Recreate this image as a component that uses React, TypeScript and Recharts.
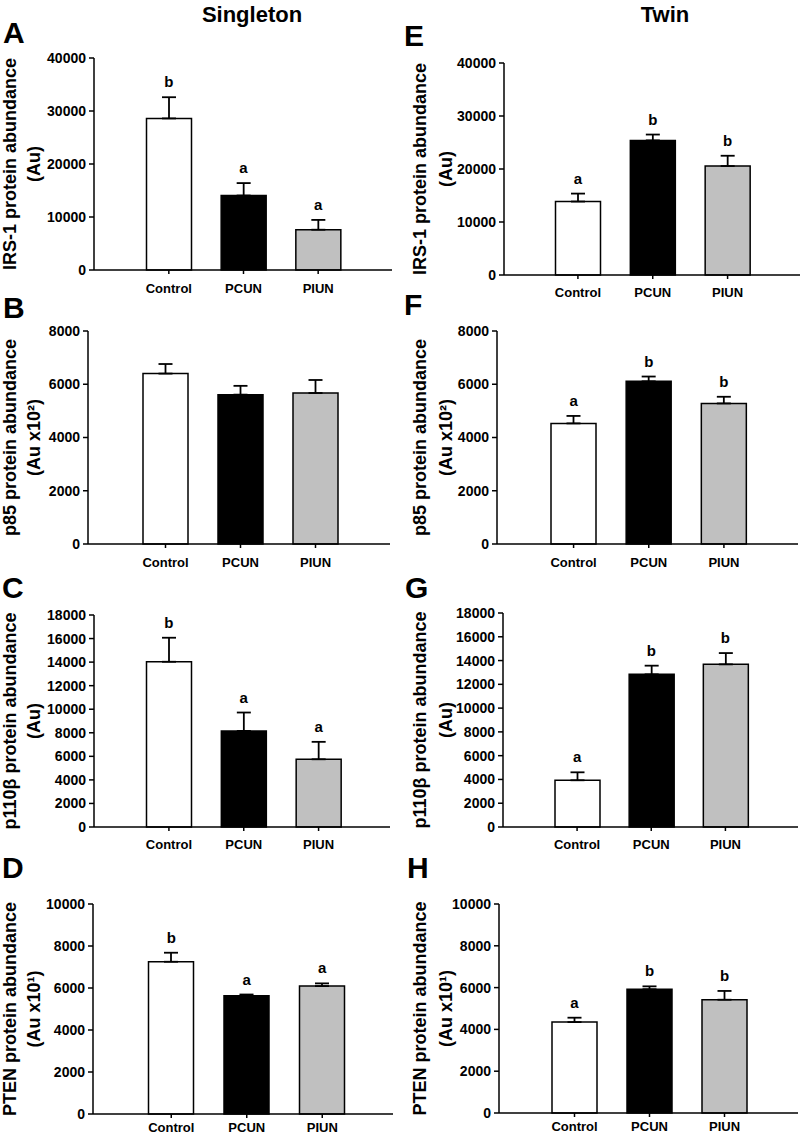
import React from 'react';
import { ComposedChart, Bar, Line, XAxis, YAxis, ErrorBar, Cell, LabelList } from 'recharts';

const FONT = '"Liberation Sans", Arial, Helvetica, sans-serif';

// ---- data ----
const categories = ['Control', 'PCUN', 'PIUN'];
const barFills = ['#ffffff', '#000000', '#c0c0c0'];

const irs1SingletonMean = [28600, 14050, 7600];
const irs1SingletonErr = [4000, 2350, 1850];
const irs1SingletonLetters = ['b', 'a', 'a'];

const p85SingletonMean = [6400, 5610, 5670];
const p85SingletonErr = [360, 330, 490];

const p110SingletonMean = [14030, 8160, 5750];
const p110SingletonErr = [2040, 1560, 1480];
const p110SingletonLetters = ['b', 'a', 'a'];

const ptenSingletonMean = [7250, 5630, 6090];
const ptenSingletonErr = [430, 60, 130];
const ptenSingletonLetters = ['b', 'a', 'a'];

const irs1TwinMean = [13860, 25400, 20560];
const irs1TwinErr = [1500, 1100, 1940];
const irs1TwinLetters = ['a', 'b', 'b'];

const p85TwinMean = [4530, 6110, 5280];
const p85TwinErr = [280, 180, 250];
const p85TwinLetters = ['a', 'b', 'b'];

const p110TwinMean = [3930, 12840, 13680];
const p110TwinErr = [670, 730, 950];
const p110TwinLetters = ['a', 'b', 'b'];

const ptenTwinMean = [4350, 5920, 5420];
const ptenTwinErr = [210, 140, 420];
const ptenTwinLetters = ['a', 'b', 'b'];

const irs1Ticks = [0, 10000, 20000, 30000, 40000];
const p85Ticks = [0, 2000, 4000, 6000, 8000];
const p110Ticks = [0, 2000, 4000, 6000, 8000, 10000, 12000, 14000, 16000, 18000];
const ptenTicks = [0, 2000, 4000, 6000, 8000, 10000];

const columnTitles = ['Singleton', 'Twin'];

// ---- layout ----
type PanelDef = {
  id: string;
  col: number;
  L: number; R: number; T: number; B: number;
  pl: number; pr: number; tm: number;
  means: number[]; errs: number[]; letters?: string[];
  ticks: number[];
  label1: string; label2: string;
};

const panels: PanelDef[] = [
  { id: 'A', col: 0, L: 94, R: 392, T: 58, B: 270, pl: 37.5, pr: 36.5, tm: 10, means: irs1SingletonMean, errs: irs1SingletonErr, letters: irs1SingletonLetters, ticks: irs1Ticks, label1: 'IRS-1 protein abundance', label2: '(Au)' },
  { id: 'B', col: 0, L: 88, R: 390, T: 331, B: 544, pl: 40, pr: 37, tm: 10, means: p85SingletonMean, errs: p85SingletonErr, ticks: p85Ticks, label1: 'p85 protein abundance', label2: '(Au x10²)' },
  { id: 'C', col: 0, L: 94, R: 390, T: 615, B: 827, pl: 37.5, pr: 34, tm: 9, means: p110SingletonMean, errs: p110SingletonErr, letters: p110SingletonLetters, ticks: p110Ticks, label1: 'p110β protein abundance', label2: '(Au)' },
  { id: 'D', col: 0, L: 93, R: 393, T: 904, B: 1114, pl: 40.5, pr: 33, tm: 5, means: ptenSingletonMean, errs: ptenSingletonErr, letters: ptenSingletonLetters, ticks: ptenTicks, label1: 'PTEN protein abundance', label2: '(Au x10¹)' },
  { id: 'E', col: 1, L: 504, R: 800, T: 63, B: 275, pl: 36.5, pr: 35, tm: 9, means: irs1TwinMean, errs: irs1TwinErr, letters: irs1TwinLetters, ticks: irs1Ticks, label1: 'IRS-1 protein abundance', label2: '(Au)' },
  { id: 'F', col: 1, L: 497, R: 798, T: 331, B: 544, pl: 39, pr: 36.5, tm: 10, means: p85TwinMean, errs: p85TwinErr, letters: p85TwinLetters, ticks: p85Ticks, label1: 'p85 protein abundance', label2: '(Au x10²)' },
  { id: 'G', col: 1, L: 503, R: 798, T: 613, B: 827, pl: 37, pr: 35.5, tm: 9, means: p110TwinMean, errs: p110TwinErr, letters: p110TwinLetters, ticks: p110Ticks, label1: 'p110β protein abundance', label2: '(Au)' },
  { id: 'H', col: 1, L: 499, R: 798, T: 904, B: 1113, pl: 38, pr: 36, tm: 5, means: ptenTwinMean, errs: ptenTwinErr, letters: ptenTwinLetters, ticks: ptenTicks, label1: 'PTEN protein abundance', label2: '(Au x10¹)' },
];

const letterPos: Record<string, [number, number]> = {
  A: [3, 43], B: [3, 318], C: [2, 598], D: [2, 878],
  E: [404, 46], F: [404, 315], G: [405, 598], H: [407, 878],
};

const labelX = [[16, 40], [426, 452]];

function Panel({ p }: { p: PanelDef }) {
  const data = categories.map((name, i) => ({
    name,
    value: p.means[i],
    err: [0, p.errs[i]],
    top: p.means[i] + p.errs[i],
    letter: p.letters ? p.letters[i] : '',
  }));
  const chartLeft = p.col * 400;
  const mt = 16;
  const chartTop = p.T - mt;
  const xH = 26;
  const max = p.ticks[p.ticks.length - 1];
  return (
    <div style={{ position: 'absolute', left: chartLeft, top: chartTop }}>
      <ComposedChart
        width={p.R - chartLeft + 4}
        height={p.B - chartTop + xH}
        data={data}
        margin={{ top: mt, right: 4, bottom: 0, left: 0 }}
      >
        <XAxis
          dataKey="name"
          height={xH}
          padding={{ left: p.pl, right: p.pr }}
          interval={0}
          tickSize={4}
          tickMargin={p.tm}
          axisLine={{ stroke: '#000', strokeWidth: 1.5 }}
          tickLine={{ stroke: '#000', strokeWidth: 1.5 }}
          tick={{ fill: '#000', fontSize: 13, fontWeight: 'bold', fontFamily: FONT }}
        />
        <YAxis
          width={p.L - chartLeft}
          domain={[0, max]}
          ticks={p.ticks}
          interval={0}
          tickSize={5}
          tickMargin={3}
          axisLine={{ stroke: '#000', strokeWidth: 1.5 }}
          tickLine={{ stroke: '#000', strokeWidth: 1.5 }}
          tick={{ fill: '#000', fontSize: 14, fontWeight: 'bold', fontFamily: FONT }}
        />
        <Bar dataKey="value" barSize={45} stroke="#000" strokeWidth={1.5} isAnimationActive={false}>
          {data.map((d, i) => (
            <Cell key={d.name} fill={barFills[i]} />
          ))}
          <ErrorBar dataKey="err" width={7} strokeWidth={1.8} stroke="#000" direction="y" isAnimationActive={false} />
        </Bar>
        {p.letters && (
          <Line dataKey="top" stroke="none" dot={false} activeDot={false} isAnimationActive={false} legendType="none">
            <LabelList
              dataKey="letter"
              position="top"
              offset={10}
              fill="#000"
              style={{ fontSize: 15, fontWeight: 'bold', fontFamily: FONT }}
            />
          </Line>
        )}
      </ComposedChart>
    </div>
  );
}

export default function App() {
  return (
    <div style={{ position: 'absolute', left: 0, top: 0, width: 803, height: 1140, overflow: 'hidden', background: '#fff' }}>
      {panels.map((p) => (
        <Panel key={p.id} p={p} />
      ))}
      <svg width={803} height={1140} style={{ position: 'absolute', left: 0, top: 0, pointerEvents: 'none' }}>
        <g fontFamily={FONT} fontWeight="bold" fill="#000">
          <text x={252} y={22} fontSize={22} textAnchor="middle">{columnTitles[0]}</text>
          <text x={665} y={22} fontSize={22} textAnchor="middle">{columnTitles[1]}</text>
          {panels.map((p) => {
            const [lx, ly] = letterPos[p.id];
            return (
              <text key={'l' + p.id} x={lx} y={ly} fontSize={30}>{p.id}</text>
            );
          })}
          {panels.map((p) => {
            const cy = (p.T + p.B) / 2;
            const [x1, x2] = labelX[p.col];
            return (
              <g key={'y' + p.id} fontSize={18}>
                <text x={x1} y={cy} textAnchor="middle" transform={`rotate(-90 ${x1} ${cy})`}>{p.label1}</text>
                <text x={x2} y={cy} textAnchor="middle" transform={`rotate(-90 ${x2} ${cy})`}>{p.label2}</text>
              </g>
            );
          })}
        </g>
      </svg>
    </div>
  );
}
